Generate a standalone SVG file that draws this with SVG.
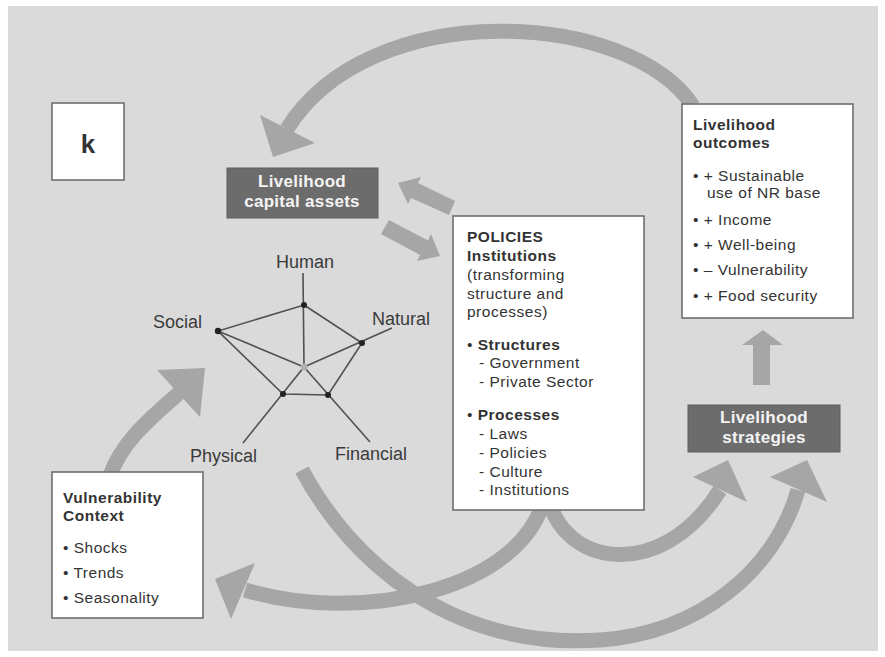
<svg xmlns="http://www.w3.org/2000/svg" width="885" height="657" viewBox="0 0 885 657">
<style>
.box{fill:#ffffff;stroke:#6f6f6f;stroke-width:1.6}
.dark{fill:#6c6c6c;stroke:#5e5e5e;stroke-width:1}
.t{font-family:"Liberation Sans",Arial,sans-serif;font-size:15.5px;letter-spacing:0.5px;fill:#333333}
.b{font-weight:bold}
.w{font-family:"Liberation Sans",Arial,sans-serif;font-size:17px;letter-spacing:0.3px;font-weight:bold;fill:#f4f4f4;text-anchor:middle}
.lab{font-family:"Liberation Sans",Arial,sans-serif;font-size:18px;fill:#3a3a3a}
.shaft{fill:none;stroke:#a6a6a6;stroke-width:15}
.head{fill:#a6a6a6}
.ax{stroke:#505050;stroke-width:1.6;fill:none}
</style>
<rect x="0" y="0" width="885" height="657" fill="#ffffff"/>
<rect x="8" y="6" width="870" height="645" fill="#dadada"/>
<g id="connectors">
  <path class="shaft" d="M 693 106 C 630 10, 370 -5, 287 129"/>
  <polygon class="head" points="260,115 315,143 273,157"/>
  <path class="shaft" d="M 110 476 C 122 440, 155 415, 179 393"/>
  <polygon class="head" points="157,370 205,368 200,417"/>
  <path class="shaft" d="M 545 495 C 525 590, 360 625, 245 590"/>
  <polygon class="head" points="255,563 215,579 231,619"/>
  <path class="shaft" d="M 302 470 C 350 560, 450 650, 600 640 C 700 633, 775 570, 798 490"/>
  <polygon class="head" points="770,477 807,460 827,502"/>
  <path class="shaft" d="M 548 495 C 560 565, 660 585, 720 490"/>
  <polygon class="head" points="693,477 728,460 747,502"/>
  <polygon class="head" points="398,183 408,204 411,198 449,215 455,201 418,183 421,177"/>
  <polygon class="head" points="440,256 431,234 428,240.5 389,220 381,234 420,255 417,261"/>
  <polygon class="head" points="763,330 783,345 770,345 770,385 753,385 753,345 742,345"/>
</g>
<g id="k-label">
  <rect class="box" x="52" y="103" width="72" height="77"/>
  <text class="t b" x="88" y="153" text-anchor="middle" style="font-size:26px;letter-spacing:0">k</text>
</g>
<g id="capital-assets">
  <rect class="dark" x="227" y="168" width="151" height="50"/>
  <text class="w" x="302" y="187">Livelihood</text>
  <text class="w" x="302" y="207">capital assets</text>
</g>
<g id="pentagon">
  <line class="ax" x1="304" y1="367" x2="303" y2="273"/>
  <line class="ax" x1="304" y1="367" x2="392" y2="328"/>
  <line class="ax" x1="304" y1="367" x2="370" y2="442"/>
  <line class="ax" x1="304" y1="367" x2="243" y2="443"/>
  <line class="ax" x1="304" y1="367" x2="218" y2="331"/>
  <polygon class="ax" points="304,305 362,343 328,395 283,394 218,331"/>
  <circle cx="304" cy="305" r="3" fill="#222"/>
  <circle cx="362" cy="343" r="3" fill="#222"/>
  <circle cx="328" cy="395" r="3" fill="#222"/>
  <circle cx="283" cy="394" r="3" fill="#222"/>
  <circle cx="218" cy="331" r="3.2" fill="#222"/>
  <circle cx="304" cy="367" r="3.5" fill="#b0b0b0"/>
  <text class="lab" x="305" y="268" text-anchor="middle">Human</text>
  <text class="lab" x="153" y="328">Social</text>
  <text class="lab" x="372" y="325">Natural</text>
  <text class="lab" x="190" y="462">Physical</text>
  <text class="lab" x="335" y="460">Financial</text>
</g>
<g id="policies">
  <rect class="box" x="453" y="216" width="191" height="294"/>
  <text class="t b" x="467" y="242">POLICIES</text>
  <text class="t b" x="467" y="261">Institutions</text>
  <text class="t" x="467" y="280">(transforming</text>
  <text class="t" x="467" y="299">structure and</text>
  <text class="t" x="467" y="317">processes)</text>
  <text class="t" x="467" y="350">• <tspan class="b">Structures</tspan></text>
  <text class="t" x="479" y="368">- Government</text>
  <text class="t" x="479" y="387">- Private Sector</text>
  <text class="t" x="467" y="420">• <tspan class="b">Processes</tspan></text>
  <text class="t" x="479" y="439">- Laws</text>
  <text class="t" x="479" y="458">- Policies</text>
  <text class="t" x="479" y="477">- Culture</text>
  <text class="t" x="479" y="495">- Institutions</text>
</g>
<g id="outcomes">
  <rect class="box" x="682" y="104" width="171" height="214"/>
  <text class="t b" x="693" y="130">Livelihood</text>
  <text class="t b" x="693" y="148">outcomes</text>
  <text class="t" x="693" y="181">• + Sustainable</text>
  <text class="t" x="707" y="198">use of NR base</text>
  <text class="t" x="693" y="225">• + Income</text>
  <text class="t" x="693" y="250">• + Well-being</text>
  <text class="t" x="693" y="275">• – Vulnerability</text>
  <text class="t" x="693" y="301">• + Food security</text>
</g>
<g id="strategies">
  <rect class="dark" x="688" y="405" width="152" height="47"/>
  <text class="w" x="764" y="423">Livelihood</text>
  <text class="w" x="764" y="443">strategies</text>
</g>
<g id="vulnerability">
  <rect class="box" x="52" y="472" width="151" height="146"/>
  <text class="t b" x="63" y="503">Vulnerability</text>
  <text class="t b" x="63" y="521">Context</text>
  <text class="t" x="63" y="553">• Shocks</text>
  <text class="t" x="63" y="578">• Trends</text>
  <text class="t" x="63" y="603">• Seasonality</text>
</g>
</svg>
